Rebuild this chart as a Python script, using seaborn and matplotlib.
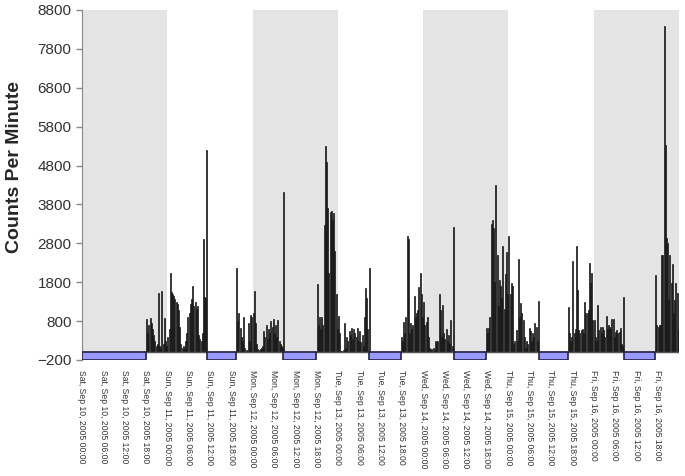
import numpy as np
import pandas as pd
import matplotlib
matplotlib.use("Agg")
import matplotlib.pyplot as plt
import seaborn as sns

# counts per minute, 20-minute bins (72 per day)
sat = [0] * 54 + [850, 500, 700, 880, 750, 600, 450, 300, 150, 200, 1520, 150,
                  100, 1575, 200, 880, 300, 150]
sun = ([400, 600, 2030, 1550, 1500, 1450, 1380, 1300, 1250, 1080, 650, 200,
        100, 150, 100, 300, 500, 900, 1000, 1250, 1370, 1710, 1200, 1300,
        1100, 1200, 440, 350, 300, 500, 2900, 1430, 1400, 5200]
       + [0] * 24
       + [2160, 800, 1000, 620, 400, 300, 910, 100, 50, 30, 750, 300, 950, 900])
mon = ([1000, 1570, 750, 200, 80, 50, 80, 100, 150, 550, 400, 700, 350, 600,
        500, 800, 650, 850, 500, 700, 400, 820, 300, 200, 150, 100, 4120]
       + [0] * 27
       + [1750, 700, 900, 600, 900, 700, 3270, 5300, 4900, 3700, 2030, 3600,
          3630, 3400, 3570, 2600, 1500, 600])
tue = ([940, 500, 30, 30, 50, 760, 100, 400, 300, 550, 450, 620, 350, 600,
        500, 400, 620, 300, 550, 250, 450, 150, 900, 1660, 1390, 600, 2170]
       + [0] * 26
       + [390, 300, 780, 500, 900, 3000, 2900, 500, 750, 600, 700, 1440, 900,
          1000, 1080, 1680, 2030, 1500, 900])
wed = ([1300, 700, 780, 910, 400, 100, 50, 80, 100, 50, 300, 250, 300, 1490,
        1080, 400, 1210, 500, 350, 600, 300, 450, 200, 830, 150, 3210]
       + [0] * 27
       + [620, 500, 620, 900, 3300, 3400, 3200, 1800, 4300, 2500, 1200, 1850,
          1700, 1400, 2740, 1100, 2000, 2580, 1500])
thu = ([2990, 1500, 1780, 1700, 200, 300, 570, 300, 2400, 900, 1260, 1000,
        830, 400, 100, 300, 200, 620, 550, 300, 490, 400, 750, 650, 300, 1320]
       + [0] * 24
       + [1170, 490, 300, 400, 2340, 490, 600, 2740, 1600, 570, 500, 570, 600,
          500, 1300, 1000, 1000, 1080, 2290, 1770, 2030, 830])
fri = ([830, 400, 300, 1210, 570, 660, 500, 660, 570, 400, 930, 600, 700, 650,
        600, 850, 850, 390, 530, 570, 500, 530, 620, 200, 150, 1410]
       + [0] * 26
       + [1980, 700, 650, 700, 700, 2500, 2500, 8380, 5330, 2930, 2800, 1340,
          2500, 1770, 2280, 1000, 1340, 1770, 1520, 570])

# sleep periods, hours since Sat Sep 10 00:00
sleep_start = [0.0, 35.1, 56.7, 80.9, 104.6, 128.6, 152.5]
sleep_end = [18.0, 43.3, 65.9, 89.8, 113.8, 136.9, 161.2]

# shaded days (Sat, Mon, Wed, Fri)
shade_start = [0, 48, 96, 144]

tick_times = pd.date_range("2005-09-10 00:00", periods=28, freq="6h")
tick_labels = [t.strftime("%a, %b %d, %Y %H:%M") for t in tick_times]

counts = np.array(sat + sun + mon + tue + wed + thu + fri, dtype=float)
df = pd.DataFrame({"hour": np.arange(len(counts)) / 3 + 1 / 6,
                   "counts": counts})
tick_hours = (tick_times - tick_times[0]).total_seconds() / 3600

sns.set_style("white")
plt.rcParams["font.family"] = ["Liberation Sans", "DejaVu Sans"]

fig, ax = plt.subplots(figsize=(6.85, 4.76), dpi=100)
fig.subplots_adjust(left=0.1197, right=0.991, top=0.979, bottom=0.2437)

ax.bar(shade_start, 8800, width=24, bottom=0, align="edge",
       color="#e4e4e4", linewidth=0, zorder=0)

sns.histplot(data=df, x="hour", weights="counts", bins=len(df),
             binrange=(0, 168), ax=ax, color="#111111", edgecolor="#1a1a1a",
             linewidth=0.5, shrink=0.85, alpha=1, zorder=2)

ax.axhline(0, color="#555555", lw=1, zorder=3)

widths = np.array(sleep_end) - np.array(sleep_start)
ax.bar(sleep_start, 200, width=widths, bottom=-200, align="edge",
       color="#9999ff", edgecolor="#222244", linewidth=1.2, zorder=4)

ax.set_xlim(0, 168)
ax.set_ylim(-200, 8800)
ax.set_yticks(np.arange(-200, 8801, 1000))
ax.set_xticks(tick_hours)
ax.set_xticklabels(tick_labels, rotation=270, fontsize=6.2, color="#333333")
ax.tick_params(axis="x", length=0, pad=7)
ax.tick_params(axis="y", left=True, length=4, width=1, color="#888888",
               labelsize=11, labelcolor="#333333")

for side in ["top", "right", "bottom"]:
    ax.spines[side].set_visible(False)
ax.spines["left"].set_color("#888888")

ax.set_xlabel("")
ax.set_ylabel("Counts Per Minute", fontsize=14, fontweight="bold")
ax.yaxis.set_label_coords(-0.099, 0.55)

plt.savefig("out.png", dpi=100)
